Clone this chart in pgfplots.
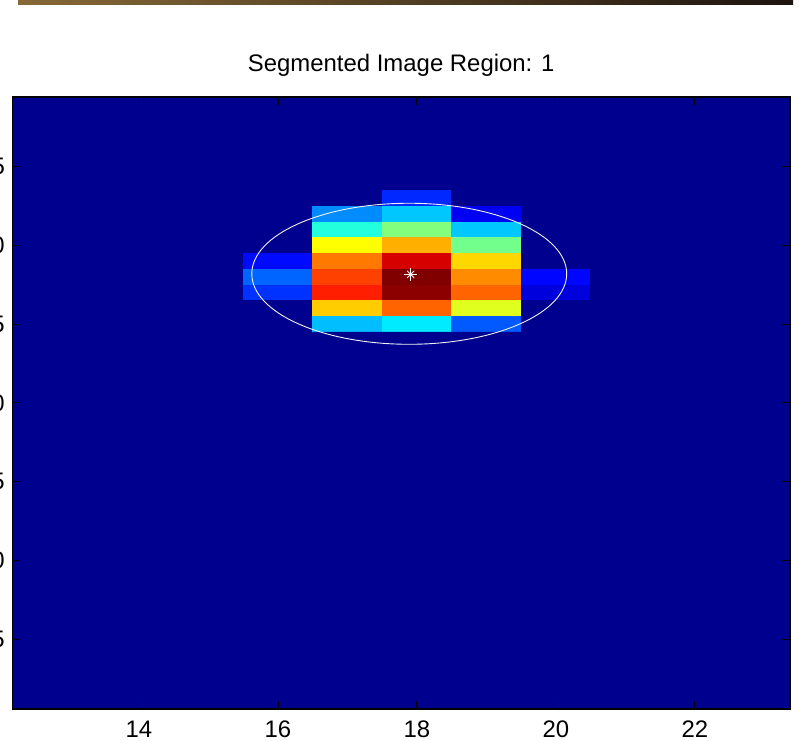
\documentclass[border=0pt]{standalone}
\usepackage{pgfplots}
\pgfplotsset{compat=1.18}
\usepackage{fontspec}
\setmainfont{Liberation Sans}
\definecolor{bgblue}{RGB}{0,0,143}
\definecolor{barA}{RGB}{135,105,55}
\definecolor{barB}{RGB}{70,42,20}
\definecolor{barC}{RGB}{30,20,15}
\begin{document}
\begin{tikzpicture}
\useasboundingbox (0,0) rectangle (803bp,741bp);
\shade[left color=barA, middle color=barB, right color=barC] (18bp,736bp) rectangle (793bp,741bp);
\begin{axis}[
  at={(12.5bp,32bp)}, anchor=south west,
  scale only axis, width=777.5bp, height=612bp,
  xmin=12.18, xmax=23.37, ymin=0.57, ymax=39.45, y dir=reverse,
  axis on top,
  axis background/.style={fill=bgblue},
  xtick={14,16,18,20,22}, ytick={5,10,15,20,25,30,35},
  tick align=inside, major tick length=8bp,
  tick style={black, line width=0.8bp},
  axis line style={black, line width=1.2bp},
  colormap={matjet}{rgb255(0cm)=(0,0,143); rgb255(1cm)=(0,0,255); rgb255(3cm)=(0,255,255); rgb255(5cm)=(255,255,0); rgb255(7cm)=(255,0,0); rgb255(8cm)=(128,0,0)},
  point meta min=0, point meta max=1,
  tick label style={font=\fontsize{24}{28}\selectfont, inner sep=0pt},
  xticklabel style={yshift=-11.7bp},
  yticklabel style={xshift=-7.5bp},
  /pgf/number format/assume math mode=true,
  title={Segmented Image Region: 1},
  title style={font=\fontsize{24}{28}\selectfont, at={(0.5,1)}, anchor=base, yshift=19.3bp, inner sep=0pt},
]
\addplot[matrix plot*, mesh/cols=7, point meta=explicit] table[meta=c] {
x y c
15 6 0
16 6 0
17 6 0
18 6 0
19 6 0
20 6 0
21 6 0
15 7 0
16 7 0
17 7 0
18 7 0.164
19 7 0
20 7 0
21 7 0
15 8 0
16 8 0
17 8 0.262
18 8 0.321
19 8 0.11
20 8 0
21 8 0
15 9 0
16 9 0
17 9 0.409
18 9 0.502
19 9 0.321
20 9 0
21 9 0
15 10 0
16 10 0
17 10 0.625
18 10 0.703
19 10 0.488
20 10 0
21 10 0
15 11 0
16 11 0.135
17 11 0.757
18 11 0.914
19 11 0.664
20 11 0
21 11 0
15 12 0
16 12 0.223
17 12 0.811
18 12 1.0
19 12 0.738
20 12 0.13
21 12 0
15 13 0
16 13 0.174
17 13 0.845
18 13 0.9875
19 13 0.777
20 13 0.086
21 13 0
15 14 0
16 14 0
17 14 0.674
18 14 0.777
19 14 0.595
20 14 0
21 14 0
15 15 0
16 15 0
17 15 0.311
18 15 0.355
19 15 0.213
20 15 0
21 15 0
15 16 0
16 16 0
17 16 0
18 16 0
19 16 0
20 16 0
21 16 0
};
\draw[white!90!gray, line width=0.9bp] (axis cs:17.89,11.80) ellipse [x radius=2.266, y radius=4.48];
\addplot[only marks, mark=+, mark size=6.5bp, white, mark options={line width=0.9bp}] coordinates {(17.91,11.84)};
\addplot[only marks, mark=x, mark size=5bp, white, mark options={line width=0.9bp}] coordinates {(17.91,11.84)};
\end{axis}
\end{tikzpicture}
\end{document}
